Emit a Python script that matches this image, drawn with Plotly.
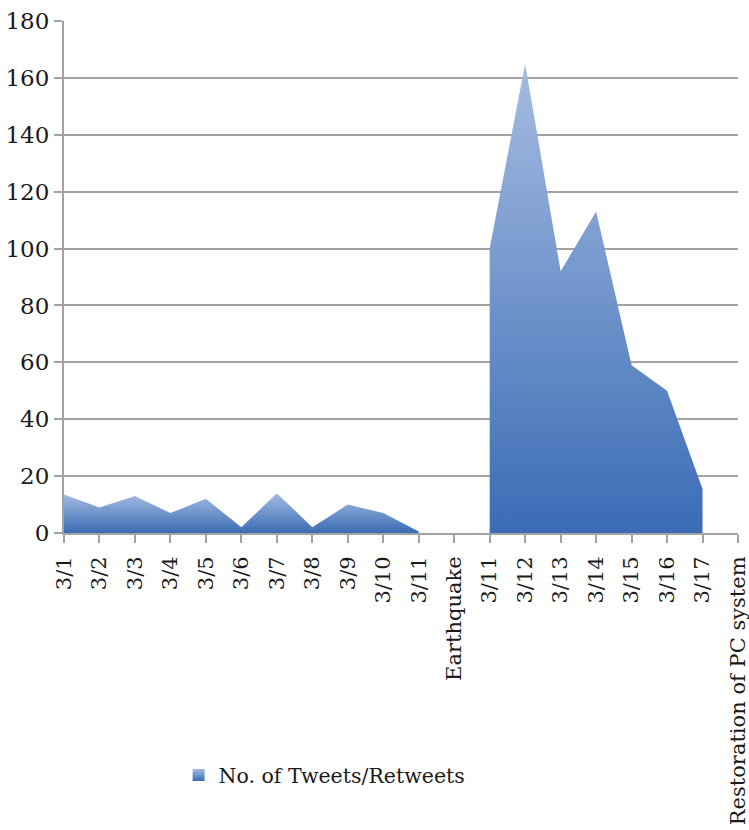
import plotly.graph_objects as go

# Category axis: two runs of dates around the earthquake marker
tick_labels = ["3/1", "3/2", "3/3", "3/4", "3/5", "3/6", "3/7", "3/8", "3/9", "3/10", "3/11",
               "Earthquake",
               "3/11", "3/12", "3/13", "3/14", "3/15", "3/16", "3/17",
               "Restoration of PC system"]

# Daily counts before the earthquake (3/1 .. 3/11)
before_values = [13.5, 9, 13, 7, 12, 2, 14, 2, 10, 7, 0.5]
# Daily counts after the earthquake (3/11 .. 3/17)
after_values = [100, 165, 92, 113, 59, 50, 15.5]

series_name = "No. of Tweets/Retweets"

positions = list(range(len(tick_labels)))
before_x = positions[0:len(before_values)]
after_start = tick_labels.index("Earthquake") + 1
after_x = positions[after_start:after_start + len(after_values)]

grad = dict(type="vertical", colorscale=[[0, "#3a6cb5"], [1, "#a6bce1"]])
font_family = "DejaVu Serif"
text_color = "#1a1a1a"
axis_gray = "#a3a3a3"

fig = go.Figure()
for xs, ys in [(before_x, before_values), (after_x, after_values)]:
    fig.add_trace(go.Scatter(
        x=xs, y=ys, mode="lines", fill="tozeroy",
        line=dict(width=0, color="#5a84c5"),
        fillcolor="#5a84c5", fillgradient=grad,
        showlegend=False, hoverinfo="x+y",
    ))

# Legend key: small shaded square
fig.add_trace(go.Scatter(
    x=[None], y=[None], mode="markers", name=series_name,
    marker=dict(symbol="square", size=12, color="#a6bce1",
                gradient=dict(type="vertical", color="#3a6cb5"),
                line=dict(width=0)),
))

fig.update_layout(
    width=749, height=830,
    margin=dict(l=64, r=11, t=21, b=297),
    paper_bgcolor="white", plot_bgcolor="white",
    font=dict(family=font_family, size=19, color=text_color),
    showlegend=True,
    legend=dict(orientation="h", x=0.17, y=-0.473, xanchor="left", yanchor="middle",
                font=dict(family=font_family, size=20.5, color=text_color),
                bgcolor="rgba(0,0,0,0)"),
)
fig.update_xaxes(
    range=[0, len(tick_labels) - 1],
    tickmode="array", tickvals=positions, ticktext=tick_labels,
    tickangle=-90, ticks="outside", ticklen=8, tickwidth=2, tickcolor=axis_gray,
    tickfont=dict(family=font_family, size=21, color=text_color),
    ticklabelstandoff=5, ticklabeloverflow="allow", automargin=False,
    showline=True, linecolor=axis_gray, linewidth=2,
    showgrid=False, zeroline=False, fixedrange=True,
)
fig.update_yaxes(
    range=[0, 180], tickmode="linear", tick0=0, dtick=20,
    ticks="outside", ticklen=8, tickwidth=2, tickcolor=axis_gray,
    tickfont=dict(family=font_family, size=23, color=text_color),
    ticklabeloverflow="allow", automargin=False,
    showline=True, linecolor=axis_gray, linewidth=2,
    showgrid=True, gridcolor=axis_gray, gridwidth=2,
    zeroline=False, fixedrange=True,
)

fig.write_html("out.html")
